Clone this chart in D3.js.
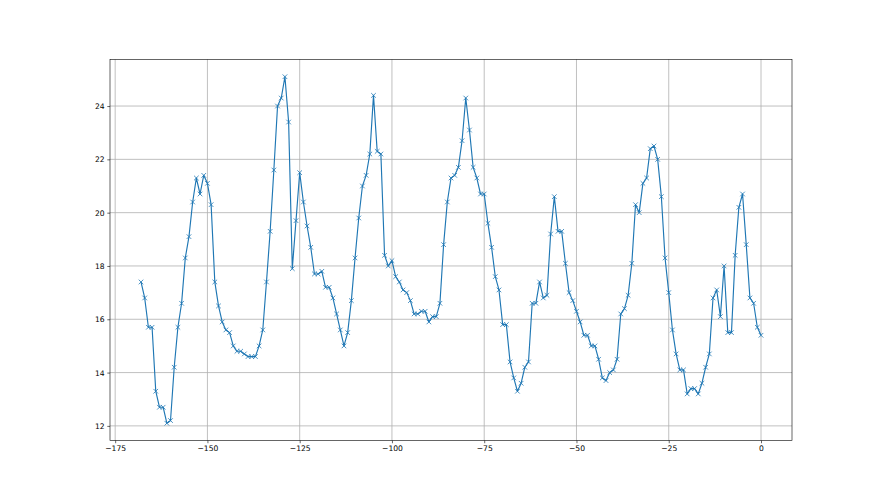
<!DOCTYPE html>
<html>
<head>
<meta charset="utf-8">
<script src="https://cdn.jsdelivr.net/npm/d3@7"></script>
<style>
html,body{margin:0;padding:0;background:#fff;}
svg{display:block;}
text{font-family:"DejaVu Sans",sans-serif;}
</style>
</head>
<body>
<svg id="chart" width="880" height="495"></svg>
<script>
const hours = [
-168,-167,-166,-165,-164,-163,-162,-161,-160,-159,-158,-157,-156,-155,-154,-153,-152,-151,-150,-149,
-148,-147,-146,-145,-144,-143,-142,-141,-140,-139,-138,-137,-136,-135,-134,-133,-132,-131,-130,-129,
-128,-127,-126,-125,-124,-123,-122,-121,-120,-119,-118,-117,-116,-115,-114,-113,-112,-111,-110,-109,
-108,-107,-106,-105,-104,-103,-102,-101,-100,-99,-98,-97,-96,-95,-94,-93,-92,-91,-90,-89,
-88,-87,-86,-85,-84,-83,-82,-81,-80,-79,-78,-77,-76,-75,-74,-73,-72,-71,-70,-69,
-68,-67,-66,-65,-64,-63,-62,-61,-60,-59,-58,-57,-56,-55,-54,-53,-52,-51,-50,-49,
-48,-47,-46,-45,-44,-43,-42,-41,-40,-39,-38,-37,-36,-35,-34,-33,-32,-31,-30,-29,
-28,-27,-26,-25,-24,-23,-22,-21,-20,-19,-18,-17,-16,-15,-14,-13,-12,-11,-10,-9,
-8,-7,-6,-5,-4,-3,-2,-1,0
];
const values = [
17.4,16.8,15.7,15.7,13.3,12.7,12.7,12.1,12.2,14.2,
15.7,16.6,18.3,19.1,20.4,21.3,20.7,21.4,21.1,20.3,
17.4,16.5,15.9,15.6,15.5,15.0,14.8,14.8,14.7,14.6,
14.6,14.6,15.0,15.6,17.4,19.3,21.6,24.0,24.3,25.1,
23.4,17.9,19.7,21.5,
20.4,19.5,18.7,17.7,17.7,17.8,17.2,17.2,16.8,16.2,
15.6,15.0,15.5,16.7,18.3,19.8,21.0,21.4,22.2,24.4,
22.3,22.2,18.4,18.0,18.2,
17.6,17.4,17.1,17.0,16.7,16.2,16.2,16.3,16.3,15.9,
16.1,16.1,16.6,18.8,20.4,21.3,21.4,21.7,22.7,24.3,
23.1,21.7,21.3,20.7,20.7,
19.6,18.7,17.6,17.1,15.8,15.8,14.4,13.8,13.3,13.6,
14.2,14.4,16.6,16.6,17.4,16.8,16.9,19.2,20.6,19.3,
19.3,18.1,17.0,16.7,16.3,
15.9,15.4,15.4,15.0,15.0,14.5,13.8,13.7,14.0,14.1,
14.5,16.2,16.4,16.9,18.1,20.3,20.0,21.1,21.3,22.4,
22.5,22.0,20.6,18.3,17.0,15.6,14.7,14.1,14.1,13.2,
13.4,13.4,13.2,13.6,14.2,14.7,16.8,17.1,16.1,18.0,
15.5,15.5,18.4,20.2,20.7,18.8,16.8,16.6,15.7,15.4
];
const xTicks = [-175,-150,-125,-100,-75,-50,-25,0];
const yTicks = [12,14,16,18,20,22,24];

(function(){
const W = 880, H = 495;
const pL = 110, pR = 792, pT = 59.4, pB = 440.55;
const data = hours.map((h,i)=>({x:h,y:values[i]}));

const xExt = d3.extent(hours), yExt = d3.extent(values);
const xPad = (xExt[1]-xExt[0])*0.05, yPad = (yExt[1]-yExt[0])*0.05;
const x = d3.scaleLinear().domain([xExt[0]-xPad, xExt[1]+xPad]).range([pL, pR]);
const y = d3.scaleLinear().domain([yExt[0]-yPad, yExt[1]+yPad]).range([pB, pT]);

const svg = d3.select("#chart");
svg.append("rect").attr("width",W).attr("height",H).attr("fill","#fff");

// grid
const grid = svg.append("g");
grid.selectAll(".vg").data(xTicks).enter().append("line")
  .attr("x1",d=>x(d)).attr("x2",d=>x(d)).attr("y1",pT).attr("y2",pB)
  .attr("stroke","#b0b0b0").attr("stroke-width",0.8);
grid.selectAll(".hg").data(yTicks).enter().append("line")
  .attr("x1",pL).attr("x2",pR).attr("y1",d=>y(d)).attr("y2",d=>y(d))
  .attr("stroke","#b0b0b0").attr("stroke-width",0.8);

// line
const line = d3.line().x(d=>x(d.x)).y(d=>y(d.y));
svg.append("path").datum(data).attr("d",line)
  .attr("fill","none").attr("stroke","#1f77b4").attr("stroke-width",1.15)
  .attr("stroke-linejoin","round");

// markers
const m = 2.3;
svg.append("g").selectAll("path").data(data).enter().append("path")
  .attr("d",d=>{const cx=x(d.x), cy=y(d.y);
    return `M${cx-m},${cy-m}L${cx+m},${cy+m}M${cx-m},${cy+m}L${cx+m},${cy-m}`;})
  .attr("stroke","#1f77b4").attr("stroke-width",0.8).attr("fill","none");

// axes
const xAxis = d3.axisBottom(x).tickValues(xTicks).tickSize(2.7).tickPadding(2.7);
const yAxis = d3.axisLeft(y).tickValues(yTicks).tickSize(2.7).tickPadding(2.7);
const gx = svg.append("g").attr("transform",`translate(0,${pB})`).call(xAxis);
const gy = svg.append("g").attr("transform",`translate(${pL},0)`).call(yAxis);
[gx,gy].forEach(g=>{
  g.select(".domain").remove();
  g.selectAll("line").attr("stroke","#000").attr("stroke-width",0.6);
  g.selectAll("text").attr("fill","#000").style("font-size","7.6px").style("font-family","DejaVu Sans");
});

// frame
svg.append("rect").attr("x",pL).attr("y",pT).attr("width",pR-pL).attr("height",pB-pT)
  .attr("fill","none").attr("stroke","#000").attr("stroke-width",0.6);
})();
</script>
</body>
</html>
